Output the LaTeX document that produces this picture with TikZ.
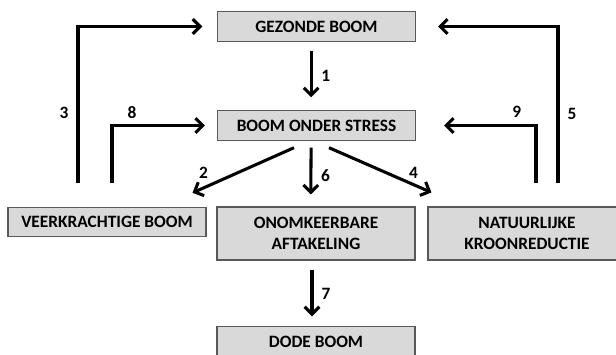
\documentclass[tikz,border=0pt]{standalone}
\usepackage{fontspec}
\setmainfont{Carlito}
\usetikzlibrary{arrows.meta,positioning}

\begin{document}
\begin{tikzpicture}[x=0.75pt,y=-0.75pt, box/.style={draw=black!65,fill=black!15,line width=0.8pt,minimum width=148.5pt,minimum height=22pt,inner sep=0pt,align=center,font=\bfseries\fontsize{13}{15.75}\selectfont}, lbl/.style={font=\bfseries\fontsize{13}{15}\selectfont}, arr/.style={->,line width=2.3pt}, >={Straight Barb[length=5.5pt,width=11pt]}]
\useasboundingbox (0,0) rectangle (616,354);
\node[box] (gezond) at (316.5,26.5) {GEZONDE BOOM};
\node[box] (stress) at (316.5,125.5) {BOOM ONDER STRESS};
\node[box] (veerkr) at (107,222) {VEERKRACHTIGE BOOM};
\node[box,minimum height=39.75pt] (onomk) at (316,233.5) {ONOMKEERBARE\\AFTAKELING};
\node[box,minimum height=39.75pt] (natuur) at (527,233.5) {NATUURLIJKE\\KROONREDUCTIE};
\node[box] (dood) at (316,341.5) {DODE BOOM};
\coordinate (c3) at (78,183);\coordinate (c8) at (112,183);
\coordinate (c9) at (536,183);\coordinate (c5) at (558,183);
\draw[arr,shorten <=6.75pt,shorten >=9.75pt] ([xshift=-4pt]gezond.south) -- node[lbl,midway,xshift=11pt]{1} ([xshift=-4pt]stress.north);
\draw[arr,shorten <=5.25pt,shorten >=9pt] ([xshift=-4pt]stress.south) -- node[lbl,midway,xshift=11pt,yshift=-1.5pt]{6} ([xshift=-4pt]onomk.north);
\draw[arr,shorten <=6.75pt,shorten >=7.5pt] ([xshift=-3pt]onomk.south) -- node[lbl,midway,xshift=10.5pt]{7} ([xshift=-3pt]dood.north);
\draw[arr] ([shift={(-22.5,7)}]stress.south) -- ([shift={(-14,-14)}]veerkr.north east) node[lbl,pos=1,xshift=8.25pt,yshift=15pt]{2};
\draw[arr] ([shift={(12.5,7)}]stress.south) -- ([shift={(4,-14)}]natuur.north west) node[lbl,pos=1,xshift=-13.5pt,yshift=15pt]{4};
\draw[arr,shorten >=11pt] (c3) -- node[lbl,pos=0.45,xshift=-10.5pt]{3} (c3 |- gezond) -- (gezond.west);
\draw[arr,shorten >=9pt] (c8) -- (c8 |- stress) -- node[lbl,pos=0.19,yshift=10pt]{8} (stress.west);
\draw[arr,shorten >=16.5pt] (c5) -- node[lbl,pos=0.44,xshift=10.5pt]{5} (c5 |- gezond) -- (gezond.east);
\draw[arr,shorten >=21pt] (c9) -- (c9 |- stress) -- node[lbl,pos=0.16,yshift=10pt]{9} (stress.east);
\end{tikzpicture}
\end{document}
